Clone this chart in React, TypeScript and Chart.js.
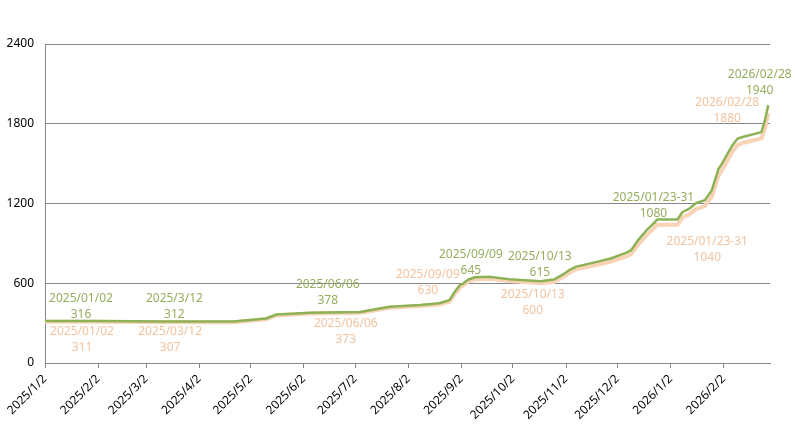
import React, { useEffect, useRef } from "react";
import { Chart, registerables } from "chart.js";
Chart.register(...registerables);

// ---- data ----
const DATES = [
  "2025/1/2", "2025/2/1", "2025/3/12", "2025/4/22", "2025/5/11", "2025/5/17", "2025/6/6",
  "2025/7/5", "2025/7/22", "2025/8/9", "2025/8/20", "2025/8/26", "2025/8/29", "2025/9/1",
  "2025/9/3", "2025/9/6", "2025/9/10", "2025/9/19", "2025/9/30", "2025/10/18", "2025/10/26",
  "2025/11/1", "2025/11/4", "2025/11/8", "2025/11/20", "2025/11/28", "2025/12/7", "2025/12/10",
  "2025/12/14", "2025/12/19", "2025/12/24", "2025/12/25", "2026/1/6", "2026/1/9", "2026/1/13",
  "2026/1/17", "2026/1/22", "2026/1/26", "2026/1/30", "2026/2/1", "2026/2/7", "2026/2/10",
  "2026/2/13", "2026/2/24", "2026/2/26", "2026/2/28",
];
const GREEN = [
  316, 316, 312, 312, 335, 365, 378,
  383, 423, 436, 450, 473, 535, 585,
  598, 628, 645, 648, 630, 615, 628,
  673, 700, 725, 761, 786, 828, 849,
  924, 999, 1061, 1080, 1080, 1136, 1162,
  1204, 1224, 1299, 1462, 1500, 1637, 1687,
  1700, 1737, 1825, 1940,
];
const PEACH = [
  311, 311, 307, 307, 330, 358, 373,
  378, 416, 428, 440, 462, 518, 568,
  585, 613, 630, 634, 616, 600, 610,
  652, 680, 705, 738, 762, 800, 820,
  890, 962, 1022, 1040, 1040, 1095, 1120,
  1160, 1180, 1250, 1410, 1450, 1590, 1640,
  1655, 1690, 1760, 1880,
];
const TICK_DATES = [
  "2025/1/2", "2025/2/2", "2025/3/2", "2025/4/2", "2025/5/2", "2025/6/2", "2025/7/2",
  "2025/8/2", "2025/9/2", "2025/10/2", "2025/11/2", "2025/12/2", "2026/1/2", "2026/2/2",
];
const Y_TICKS = [0, 600, 1200, 1800, 2400];

// label blocks: [line1, line2], x in days since 2025/1/2, y value of first line
const G_LABEL_TEXT = [
  ["2025/01/02", "316"], ["2025/3/12", "312"], ["2025/06/06", "378"], ["2025/09/09", "645"],
  ["2025/10/13", "615"], ["2025/01/23-31", "1080"], ["2026/02/28", "1940"],
];
const G_LABEL_X = [21, 75.5, 165, 248.5, 288.7, 355, 417];
const G_LABEL_Y = [488, 488, 593, 819, 804, 1247, 2170];
const P_LABEL_TEXT = [
  ["2025/01/02", "311"], ["2025/03/12", "307"], ["2025/06/06", "373"], ["2025/09/09", "630"],
  ["2025/10/13", "600"], ["2025/01/23-31", "1040"], ["2026/02/28", "1880"],
];
const P_LABEL_X = [21.6, 73, 175.5, 223.4, 284.6, 386.4, 398];
const P_LABEL_Y = [233, 233, 300, 668, 518, 916, 1960];

const GREEN_LINE = "#8cb255";
const PEACH_LINE = "#f8d3b6";
const GREEN_TEXT = "#96ad5d";
const PEACH_TEXT = "#f2c39f";

const BASE = Date.UTC(2025, 0, 2);
function dayIndex(s: string): number {
  const [y, m, d] = s.split("/").map(Number);
  return (Date.UTC(y, m - 1, d) - BASE) / 86400000;
}
function dayLabel(v: number): string {
  const dt = new Date(BASE + v * 86400000);
  return `${dt.getUTCFullYear()}/${dt.getUTCMonth() + 1}/${dt.getUTCDate()}`;
}

const labelPlugin = {
  id: "labelPlugin",
  afterDatasetsDraw(chart: any) {
    const { ctx, scales } = chart;
    const xs = scales.x;
    const ys = scales.y;
    ctx.save();
    ctx.font = '12px "Noto Sans"';
    ctx.textAlign = "center";
    ctx.textBaseline = "middle";
    const draw = (texts: string[][], lx: number[], ly: number[], color: string) => {
      ctx.fillStyle = color;
      texts.forEach((t, i) => {
        const px = xs.getPixelForValue(lx[i]);
        const py = ys.getPixelForValue(ly[i]);
        ctx.fillText(t[0], px, py);
        ctx.fillText(t[1], px, py + 16);
      });
    };
    draw(G_LABEL_TEXT, G_LABEL_X, G_LABEL_Y, GREEN_TEXT);
    draw(P_LABEL_TEXT, P_LABEL_X, P_LABEL_Y, PEACH_TEXT);
    ctx.restore();
  },
};

export default function App() {
  const ref = useRef<HTMLCanvasElement | null>(null);
  useEffect(() => {
    if (!ref.current) return;
    const gPts = DATES.map((d, i) => ({ x: dayIndex(d), y: GREEN[i] }));
    const pPts = DATES.map((d, i) => ({ x: dayIndex(d), y: PEACH[i] }));
    const tickVals = TICK_DATES.map(dayIndex);
    const chart = new Chart(ref.current, {
      type: "line",
      data: {
        datasets: [
          { label: "A", data: gPts, borderColor: GREEN_LINE, borderWidth: 2.5, pointRadius: 0, tension: 0, order: 0, borderJoinStyle: "round" },
          { label: "B", data: pPts, borderColor: PEACH_LINE, borderWidth: 4, pointRadius: 0, tension: 0, order: 1, borderJoinStyle: "round" },
        ],
      },
      options: {
        animation: false,
        responsive: false,
        devicePixelRatio: 1,
        layout: { padding: { top: 44, right: 25, left: 0, bottom: 0 } },
        plugins: { legend: { display: false }, tooltip: { enabled: false } },
        scales: {
          x: {
            type: "linear",
            min: 0,
            max: 423,
            afterBuildTicks: (s: any) => {
              s.ticks = tickVals.map((v) => ({ value: v }));
            },
            afterFit: (s: any) => {
              s.height = 65;
            },
            ticks: {
              autoSkip: false,
              maxRotation: 45,
              minRotation: 45,
              color: "#000",
              padding: 4,
              font: { size: 12, family: "Noto Sans" },
              callback: (v: any) => dayLabel(Number(v)),
            },
            grid: { drawOnChartArea: false, drawTicks: true, tickLength: 5, color: "#868686" },
            border: { color: "#868686" },
          },
          y: {
            min: 0,
            max: 2400,
            afterBuildTicks: (s: any) => {
              s.ticks = Y_TICKS.map((v) => ({ value: v }));
            },
            afterFit: (s: any) => {
              s.width = 45;
            },
            ticks: {
              color: "#000",
              padding: 11,
              font: { size: 12, family: "Noto Sans" },
              callback: (v: any) => String(v),
            },
            grid: { color: "#868686", drawTicks: false },
            border: { color: "#868686" },
          },
        },
      },
      plugins: [labelPlugin],
    });
    return () => chart.destroy();
  }, []);
  return (
    <div style={{ position: "absolute", left: 0, top: 0, width: 795, height: 428, background: "#fff" }}>
      <canvas ref={ref} width={795} height={428} style={{ width: 795, height: 428 }} />
    </div>
  );
}
